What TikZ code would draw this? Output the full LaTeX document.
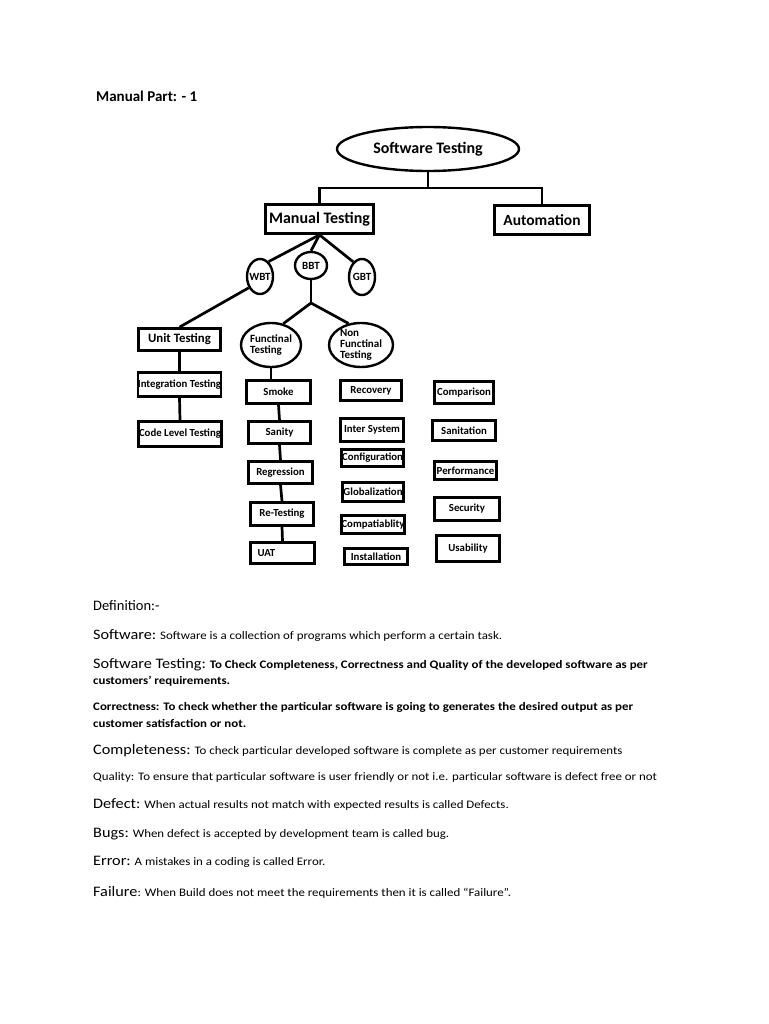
\documentclass[tikz,border=0pt]{standalone}
\usepackage{fontspec}
\setmainfont{Carlito}
\newfontfamily\deffont[FakeStretch=1.12]{Carlito}
\usetikzlibrary{positioning,calc,shapes.geometric}

\newcommand{\pxfont}[2]{\fontsize{#1}{#2}\selectfont}
\newcommand{\defterm}[1]{{\pxfont{14.5}{17}#1}}

\begin{document}
\begin{tikzpicture}[
    x=1pt,y=-1pt,
    link/.style={line width=2.7pt},
    box/.style={draw,line width=2.7pt,inner sep=0pt,font=\pxfont{10.8}{12}\bfseries},
    oval/.style={draw,ellipse,line width=2.4pt,inner sep=0pt,font=\pxfont{11}{11}\bfseries},
    defline/.style={anchor=base west,inner sep=0pt,font=\deffont\pxfont{11.5}{13}}
]
    \fill[white] (0,0) rectangle (768,1024);
    \useasboundingbox (0,0) rectangle (768,1024);

    \node[anchor=base west,inner sep=0pt,font=\pxfont{15}{18}\bfseries] (title) at (96,102) {Manual Part: - 1};

    % Top of the tree
    \node[oval,minimum width=182,minimum height=44,font=\pxfont{16}{18}\bfseries] (swt) at (428,149) {Software Testing};
    \node[box,minimum width=108,minimum height=29,font=\pxfont{16}{18}\bfseries] (manual) at (319.5,219) {Manual Testing};
    \node[box,minimum width=95,minimum height=29,font=\pxfont{15.5}{18}\bfseries] (auto) at (542,220) {Automation};
    \coordinate (split) at (swt.south |- 0,188);
    \draw[link] (swt.south) -- (split);
    \draw[link] (manual.north) |- (split) -| (auto.north);

    % Box, black and grey
    \node[oval,minimum width=26,minimum height=35,inner sep=-4pt] (wbt) at (260,276.5) {WBT};
    \node[oval,minimum width=32,minimum height=27,inner sep=-3pt] (bbt) at (311,265.5) {BBT};
    \node[oval,minimum width=26,minimum height=36,inner sep=-4pt] (gbt) at (362,277) {GBT};
    \draw[link] (manual.south) -- (wbt.60);
    \draw[link] (manual.south) -- (bbt.north);
    \draw[link] (manual.south) -- (gbt.120);

    % White box branch
    \node[box,minimum width=82,minimum height=22,font=\pxfont{12.8}{15}\bfseries] (unit) at (179.5,339.5) {Unit Testing};
    \node[box,minimum width=82,minimum height=24] (integ) at (179.5,384.5) {Integration Testing};
    \node[box,minimum width=83,minimum height=25] (code) at (180,434) {Code Level Testing};
    \draw[link] (wbt.225) -- (unit.north);
    \draw[link] (unit.south) -- (integ.north);
    \draw[link] (integ.south) -- (code.north);

    % Black box branch
    \node[oval,minimum width=60,minimum height=44,align=left,inner sep=-2pt] (func) at (271,345) {Functinal\\Testing};
    \node[oval,minimum width=64,minimum height=44,align=left,inner sep=-4pt] (nonfunc) at (361,345) {Non\\Functinal\\Testing};
    \coordinate (fork) at (bbt.south |- 0,303);
    \draw[link] (bbt.south) -- (fork);
    \draw[link] (fork) -- (func.60);
    \draw[link] (fork) -- (nonfunc.120);

    \node[box,minimum width=64,minimum height=23] (smoke) at (278.5,392) {Smoke};
    \node[box,minimum width=62,minimum height=22] (sanity) at (279.5,432.5) {Sanity};
    \node[box,minimum width=64,minimum height=22] (regr) at (280.5,472.5) {Regression};
    \node[box,minimum width=63,minimum height=23] (retest) at (282,514) {Re-Testing};
    \node[box,minimum width=64,minimum height=21,text width=50,align=left] (uat) at (282.5,553) {UAT};
    \draw[link] (func.south) -- (func.south |- smoke.north);
    \draw[link] (smoke.south) -- (sanity.north);
    \draw[link] (sanity.south) -- (regr.north);
    \draw[link] (regr.south) -- (retest.north);
    \draw[link] (retest.south) -- (uat.north);

    % Non functional kinds
    \node[box,minimum width=61,minimum height=20] (recov) at (371,390.5) {Recovery};
    \node[box,minimum width=63,minimum height=23] (inter) at (372,430) {Inter System};
    \node[box,minimum width=62,minimum height=17] (config) at (372.5,458) {Configuration};
    \node[box,minimum width=61,minimum height=19] (glob) at (373,492) {Globalization};
    \node[box,minimum width=63,minimum height=18] (compat) at (373,524.5) {Compatiablity};
    \node[box,minimum width=63,minimum height=16] (install) at (376,556.5) {Installation};

    \node[box,minimum width=59,minimum height=22] (compar) at (464,392.5) {Comparison};
    \node[box,minimum width=63,minimum height=20] (sanit) at (464,430.5) {Sanitation};
    \node[box,minimum width=62,minimum height=18] (perf) at (465.5,470.5) {Performance};
    \node[box,minimum width=65,minimum height=23] (secur) at (467,509) {Security};
    \node[box,minimum width=63,minimum height=26] (usab) at (468,548.5) {Usability};

    % Definitions
    \node[defline,font=\pxfont{14.5}{17}] (defhead) at (93,610) {Definition:-};
    \node[defline] (dsoft) at (93,639) {\defterm{Software:} Software is a collection of programs which perform a certain task.};
    \node[defline,font=\deffont\pxfont{11.5}{13}\bfseries] (dtest) at (93,668) {\defterm{\mdseries Software Testing:} To Check Completeness, Correctness and Quality of the developed software as per};
    \node[defline,font=\deffont\pxfont{11.5}{13}\bfseries] (dtest2) at (93,684) {customers’ requirements.};
    \node[defline,font=\deffont\pxfont{11.5}{13}\bfseries] (dcorr) at (93,710) {Correctness: To check whether the particular software is going to generates the desired output as per};
    \node[defline,font=\deffont\pxfont{11.5}{13}\bfseries] (dcorr2) at (93,727) {customer satisfaction or not.};
    \node[defline] (dcompl) at (93,754) {\defterm{Completeness:} To check particular developed software is complete as per customer requirements};
    \node[defline] (dqual) at (93,780) {Quality: To ensure that particular software is user friendly or not i.e. particular software is defect free or not};
    \node[defline] (ddef) at (93,808) {\defterm{Defect:} When actual results not match with expected results is called Defects.};
    \node[defline] (dbug) at (93,837) {\defterm{Bugs:} When defect is accepted by development team is called bug.};
    \node[defline] (derr) at (93,865) {\defterm{Error:} A mistakes in a coding is called Error.};
    \node[defline] (dfail) at (93,896) {\defterm{Failure}: When Build does not meet the requirements then it is called “Failure”.};
\end{tikzpicture}
\end{document}
